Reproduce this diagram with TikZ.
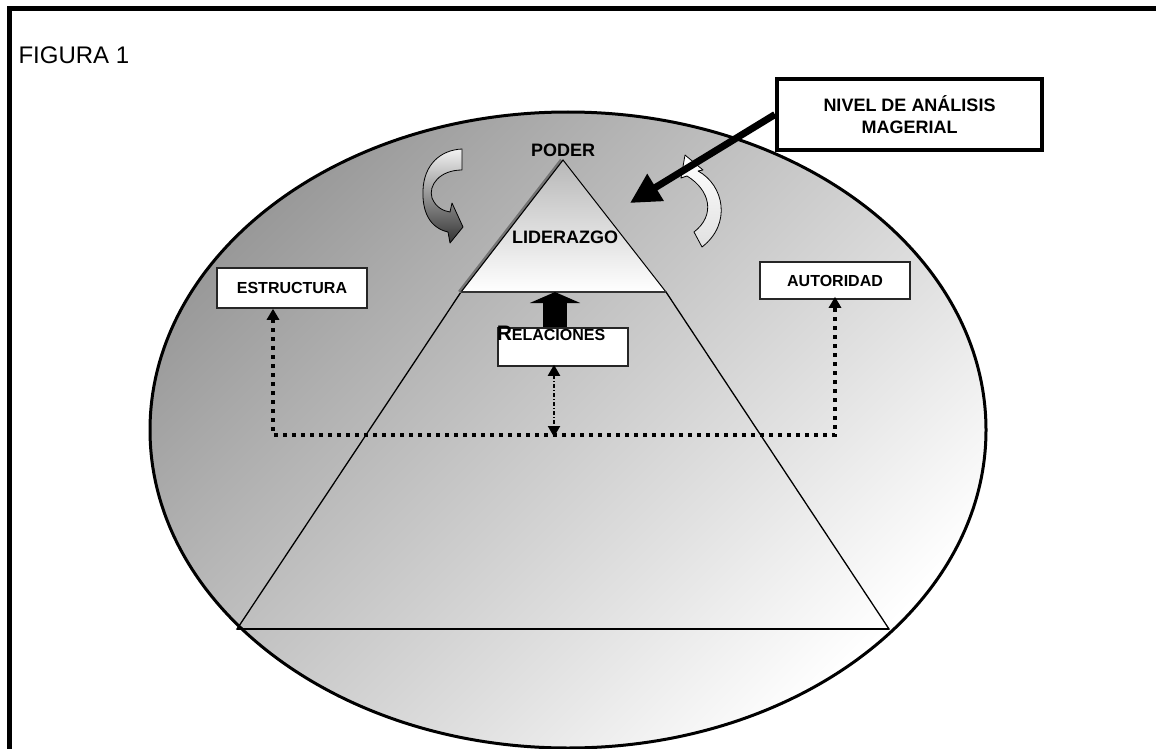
\documentclass[tikz,border=0pt]{standalone}
\usepackage{fontspec}
\setmainfont{Liberation Sans}
\usetikzlibrary{arrows.meta, positioning}

\definecolor{oscuro}{HTML}{999999}
\definecolor{claro}{HTML}{FFFFFF}

\begin{document}
\begin{tikzpicture}[x=1pt, y=-1pt,
  caja/.style={draw=black!85, fill=white, line width=1.5pt, inner sep=0pt},
  rotulo/.style={font=\bfseries\fontsize{16}{19}\selectfont},
  punteada/.style={line width=3.5pt, dash pattern=on 4pt off 5pt},
  flechacurva/.style={draw=black, line width=0.8pt, line join=round},
  >={Triangle[length=11pt, width=12pt]}]

\useasboundingbox (0,0) rectangle (1156,749);

\draw[line width=5pt] (9,749) -- (9,9) -- (1156,9); %marco

\shade[draw=black, line width=3pt, top color=oscuro, bottom color=claro, shading angle=45] (568,430) ellipse [x radius=418, y radius=318]; %elipse

% piramide
\coordinate (cima) at (563,160);
\coordinate (lidizq) at (461,292);
\coordinate (lidder) at (666,292);
\coordinate (baseizq) at (237,629);
\coordinate (baseder) at (889,629);

\draw[line width=1.3pt] (lidizq) -- (baseizq) -- (baseder) -- (lidder) -- cycle; %trapecio
\draw[line width=2.2pt] (baseizq) -- (baseder);

\shade[top color=black!28, bottom color=white] (cima) -- (lidizq) -- (lidder) -- cycle; %liderazgo
\draw[black!55, line width=3.5pt] ([xshift=-1.5pt]cima) -- ([xshift=-1.5pt]lidizq);
\draw[line width=1pt] (lidizq) -- (cima) -- (lidder);
\draw[line width=1.5pt, black!80] (lidizq) -- (lidder);

% flechas curvas
\shade[flechacurva, top color=black!5, bottom color=black!80]
  (462,149) -- (462,170)
  .. controls (440,170) and (428,185) .. (432,198)
  .. controls (436,208) and (444,211) .. (450,212)
  -- (452,203) -- (463,227) -- (450,243) -- (448,232)
  .. controls (430,228) and (422,212) .. (423,190)
  .. controls (424,165) and (440,150) .. cycle; %izquierda

\shade[flechacurva, top color=white, bottom color=black!12]
  (685,155) -- (703,170) -- (698,171)
  .. controls (724,185) and (732,224) .. (702,247)
  -- (694,232)
  .. controls (716,215) and (710,190) .. (687,176)
  -- (681,178) -- cycle; %derecha

% textos de la piramide
\node[font=\bfseries\fontsize{18}{20}\selectfont] (poder) at (563,150) {PODER};
\node[font=\bfseries\fontsize{18}{20}\selectfont] (liderazgo) at (565,237) {LIDERAZGO};

% cajas
\node[caja, minimum width=150pt, minimum height=40pt, rotulo] (estructura) at (292,288) {ESTRUCTURA};
\node[caja, minimum width=150pt, minimum height=37pt, rotulo] (autoridad) at (835,280.5) {AUTORIDAD};
\coordinate (baselid) at (555,292);
\draw[line width=24pt, -{Triangle[length=11pt, width=50pt]}] (555,332) -- (baselid); %flecha gruesa
\node[caja, minimum width=130pt, minimum height=38pt] (relaciones) at (563,347) {};
\node[font=\bfseries\fontsize{16}{18}\selectfont] (relacionestxt) at (551,333) {{\fontsize{21}{21}\selectfont R}ELACIONES};

\node[caja, draw=black, line width=4pt, minimum width=265pt, minimum height=71pt, align=center,
  font=\bfseries\fontsize{18}{22}\selectfont] (nivel) at (909.5,114.5) {NIVEL DE ANÁLISIS\\MAGERIAL};

\node[anchor=west, font=\fontsize{24}{28}\selectfont] (figura) at (15,55) {FIGURA 1};

% conectores
\coordinate (esqizq) at (273,435);
\coordinate (esqder) at (835,435);
\coordinate (cruce) at (554,435);
\coordinate (punta) at (630,203);

\draw[punteada, <->] (estructura.south -| esqizq) -- (esqizq) -- (esqder) -- ([yshift=3pt]autoridad.south); %relacion
\draw[<->, line width=2pt, dash pattern=on 4pt off 2pt on 1pt off 2pt] ([yshift=2pt]relaciones.south -| cruce) -- ([yshift=-2pt]cruce); %relaciones
\draw[line width=7pt, -{Triangle[length=30pt, width=30pt]}] (nivel.west) -- (punta); %nivel

\end{tikzpicture}
\end{document}
